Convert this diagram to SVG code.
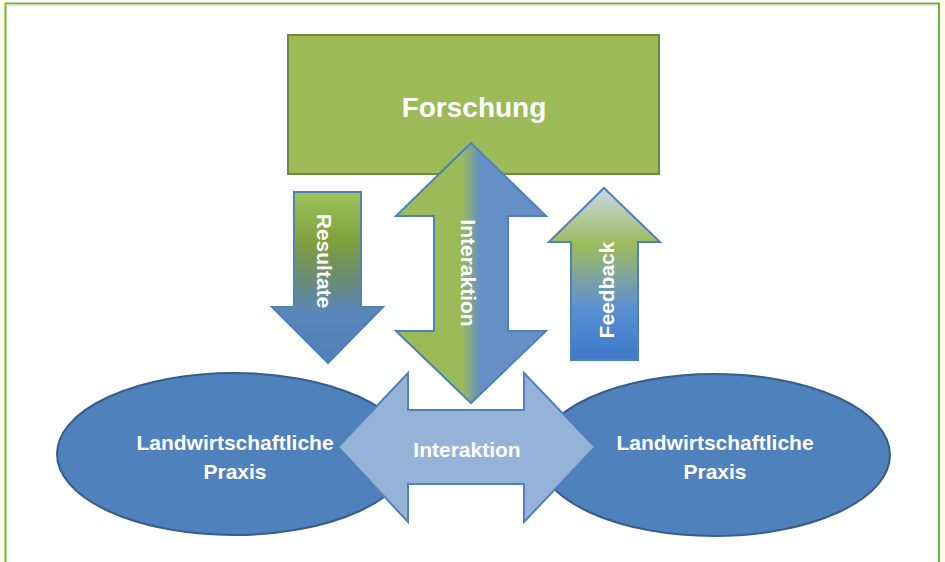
<svg xmlns="http://www.w3.org/2000/svg" width="945" height="562" viewBox="0 0 945 562">
  <style>
    .lbl { font-family: "Liberation Sans", Arial, sans-serif; font-weight: bold; fill: #FFFFFF; text-anchor: middle; }
    .big { font-size: 28px; }
    .mid { font-size: 21px; }
    .blueline { stroke: #4F81BD; stroke-width: 2; stroke-linejoin: miter; }
  </style>
  <defs>
    <linearGradient id="gradResultate" gradientUnits="userSpaceOnUse" x1="0" y1="192" x2="0" y2="363">
      <stop offset="0" stop-color="#9DC45A"/>
      <stop offset="0.3" stop-color="#7E9E3E"/>
      <stop offset="0.5" stop-color="#6C8C72"/>
      <stop offset="0.7" stop-color="#5A87BA"/>
      <stop offset="1" stop-color="#4F81BD"/>
    </linearGradient>
    <linearGradient id="gradFeedback" gradientUnits="userSpaceOnUse" x1="0" y1="188" x2="0" y2="360">
      <stop offset="0" stop-color="#C9D8E8"/>
      <stop offset="0.33" stop-color="#9BBB59"/>
      <stop offset="0.53" stop-color="#7DA2A2"/>
      <stop offset="0.7" stop-color="#5A8FD2"/>
      <stop offset="1" stop-color="#3D7ACA"/>
    </linearGradient>
    <linearGradient id="gradInterV" gradientUnits="userSpaceOnUse" x1="396" y1="0" x2="546" y2="0">
      <stop offset="0.44" stop-color="#9BBB59"/>
      <stop offset="0.56" stop-color="#6590C6"/>
    </linearGradient>
  </defs>

  <!-- page background and frame -->
  <rect x="0" y="0" width="945" height="562" fill="#FFFFFF"/>
  <rect x="0" y="0" width="5" height="562" fill="#FFFDE4"/>
  <rect x="940" y="0" width="5" height="562" fill="#FFFDE4"/>
  <path d="M5.5 566 V3.5 H939 V566" fill="none" stroke="#77B146" stroke-width="2"/>
  <line x1="6.5" y1="5" x2="938" y2="5" stroke="#C4E0A8" stroke-width="1"/>

  <!-- Forschung -->
  <g id="forschung">
    <rect x="288" y="35" width="371" height="139" fill="#9BBB59" stroke="#71893F" stroke-width="2"/>
    <text class="lbl big" x="474" y="117">Forschung</text>
  </g>

  <!-- Landwirtschaftliche Praxis (left) -->
  <g id="praxis-left">
    <ellipse cx="234" cy="454" rx="177" ry="81" fill="#4F81BD" stroke="#385D8A" stroke-width="2"/>
    <text class="lbl mid" x="235" y="450">Landwirtschaftliche</text>
    <text class="lbl mid" x="235" y="479">Praxis</text>
  </g>

  <!-- Landwirtschaftliche Praxis (right) -->
  <g id="praxis-right">
    <ellipse cx="714" cy="455" rx="176" ry="81" fill="#4F81BD" stroke="#385D8A" stroke-width="2"/>
    <text class="lbl mid" x="715" y="450">Landwirtschaftliche</text>
    <text class="lbl mid" x="715" y="479">Praxis</text>
  </g>

  <!-- connectors (block arrows) -->
  <g id="connectors">
    <g id="arrow-resultate">
      <path class="blueline" d="M294 192 H361 V307 H383 L328 363 L272 307 H294 Z" fill="url(#gradResultate)"/>
      <text class="lbl mid" transform="translate(317 261) rotate(90)" y="0">Resultate</text>
    </g>
    <g id="arrow-interaktion-vertical">
      <path class="blueline" d="M471 143 L546 216 H508 V331 H546 L471 403 L396 331 H434 V216 H396 Z" fill="url(#gradInterV)"/>
      <text class="lbl mid" transform="translate(461 273) rotate(90)" y="0">Interaktion</text>
    </g>
    <g id="arrow-feedback">
      <path class="blueline" d="M604 188 L660 242 H638 V360 H571 V242 H549 Z" fill="url(#gradFeedback)"/>
      <text class="lbl mid" transform="translate(614 290) rotate(-90)" y="0">Feedback</text>
    </g>
    <g id="arrow-interaktion-horizontal">
      <path class="blueline" d="M338 447 L408 373 V410 H524 V373 L595 447 L524 522 V484 H408 V522 Z" fill="#95B3D7"/>
      <text class="lbl mid" x="467" y="457">Interaktion</text>
    </g>
  </g>
</svg>
